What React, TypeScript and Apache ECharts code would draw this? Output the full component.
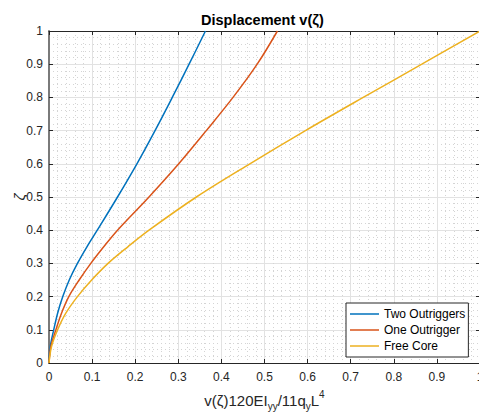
import React, { useEffect, useRef } from "react";
import * as echarts from "echarts";

// ζ levels (vertical axis) and the normalised displacement read for each curve
const zeta = [0, 0.05, 0.1, 0.15, 0.2, 0.25, 0.3, 0.35, 0.4, 0.5, 0.6, 0.7, 0.8, 0.9, 1.0];
const twoOutriggers = [0, 0.003, 0.011, 0.02, 0.032, 0.047, 0.066, 0.088, 0.112, 0.159, 0.204, 0.246, 0.286, 0.325, 0.363];
const oneOutrigger = [0, 0.0045, 0.016, 0.029, 0.046, 0.07, 0.097, 0.127, 0.159, 0.232, 0.301, 0.365, 0.427, 0.483, 0.53];
const freeCore = [0, 0.006, 0.02, 0.039, 0.066, 0.099, 0.137, 0.183, 0.232, 0.342, 0.466, 0.595, 0.729, 0.865, 1.0];

const seriesNames = ["Two Outriggers", "One Outrigger", "Free Core"];
const seriesColors = ["#0072BD", "#D95319", "#EDB120"];

export default function App() {
  const ref = useRef<HTMLDivElement>(null);
  useEffect(() => {
    document.body.style.margin = "0";
    const chart = echarts.init(ref.current!, null, { renderer: "svg" });
    const font = '"Liberation Sans", Arial, Helvetica, sans-serif';
    const axisColor = "#262626";
    const fmt = (v: number) => String(+v.toFixed(1));
    const pairs = (v: number[]) => v.map((x, i) => [x, zeta[i]]);
    const values = [twoOutriggers, oneOutrigger, freeCore];

    const gridLines = {
      splitLine: { show: true, lineStyle: { color: "#e2e2e2", width: 1 } },
      minorTick: { show: false, splitNumber: 5 },
      minorSplitLine: { show: true, lineStyle: { color: "#d4d4d4", width: 1, type: [1, 3] } },
    };

    chart.setOption({
      animation: false,
      backgroundColor: "#ffffff",
      title: {
        text: "Displacement v(ζ)",
        left: 201,
        top: 12,
        padding: 0,
        textAlign: "left",
        textStyle: { fontFamily: font, fontSize: 14.5, fontWeight: "bold", color: "#000" },
      },
      grid: { left: 49, top: 31, width: 431, height: 332, containLabel: false, outerBoundsMode: "none" },
      legend: {
        orient: "vertical",
        left: 346,
        top: 303,
        padding: [5, 3, 5, 4],
        itemGap: 4,
        itemWidth: 29,
        itemHeight: 1.5,
        icon: "rect",
        backgroundColor: "#ffffff",
        borderColor: axisColor,
        borderWidth: 1,
        borderRadius: 0,
        textStyle: { fontFamily: font, fontSize: 12, color: "#000" },
        data: seriesNames,
      },
      xAxis: [
        {
          type: "value",
          min: 0,
          max: 1,
          interval: 0.1,
          position: "bottom",
          axisLine: { show: true, onZero: false, lineStyle: { color: axisColor, width: 1 } },
          axisTick: { show: true, inside: true, length: 4, lineStyle: { color: axisColor } },
          axisLabel: { color: axisColor, fontFamily: font, fontSize: 12, margin: 8, formatter: fmt, showMaxLabel: true, hideOverlap: false },
          ...gridLines,
          name: "{m|v(ζ)120EI}{sub|yy}{m|/11q}{sub|y}{m|L}{sup|4}",
          nameLocation: "middle",
          nameGap: 26,
          nameMoveOverlap: false,
          nameTextStyle: {
            fontFamily: font,
            color: axisColor,
            rich: {
              m: { fontFamily: font, fontSize: 15, color: axisColor, lineHeight: 22, verticalAlign: "middle" },
              sub: { fontFamily: font, fontSize: 10, color: axisColor, lineHeight: 10, verticalAlign: "bottom" },
              sup: { fontFamily: font, fontSize: 10, color: axisColor, lineHeight: 6, verticalAlign: "top" },
            },
          },
        },
        {
          type: "value",
          min: 0,
          max: 1,
          interval: 0.1,
          position: "top",
          axisLine: { show: true, onZero: false, lineStyle: { color: axisColor, width: 1 } },
          axisTick: { show: true, inside: true, length: 4, lineStyle: { color: axisColor } },
          axisLabel: { show: false },
          splitLine: { show: false },
        },
      ],
      yAxis: [
        {
          type: "value",
          min: 0,
          max: 1,
          interval: 0.1,
          position: "left",
          axisLine: { show: true, onZero: false, lineStyle: { color: "#7a7a7a", width: 2 } },
          axisTick: { show: true, inside: true, length: 4, lineStyle: { color: axisColor } },
          axisLabel: { color: axisColor, fontFamily: font, fontSize: 12, margin: 6, formatter: fmt, showMaxLabel: true },
          ...gridLines,
          name: "ζ",
          nameLocation: "middle",
          nameRotate: 90,
          nameGap: 22,
          nameMoveOverlap: false,
          nameTextStyle: { fontFamily: font, fontSize: 15, fontStyle: "italic", color: axisColor },
        },
        {
          type: "value",
          min: 0,
          max: 1,
          interval: 0.1,
          position: "right",
          axisLine: { show: true, onZero: false, lineStyle: { color: axisColor, width: 1 } },
          axisTick: { show: true, inside: true, length: 4, lineStyle: { color: axisColor } },
          axisLabel: { show: false },
          splitLine: { show: false },
        },
      ],
      series: seriesNames.map((name, i) => ({
        name,
        type: "line",
        xAxisIndex: 0,
        yAxisIndex: 0,
        data: pairs(values[i]),
        symbol: "none",
        smooth: 0.35,
        color: seriesColors[i],
        lineStyle: { color: seriesColors[i], width: 1.5 },
        z: 3,
      })),
    });
    return () => chart.dispose();
  }, []);
  return <div ref={ref} style={{ width: 479, height: 415 }} />;
}
